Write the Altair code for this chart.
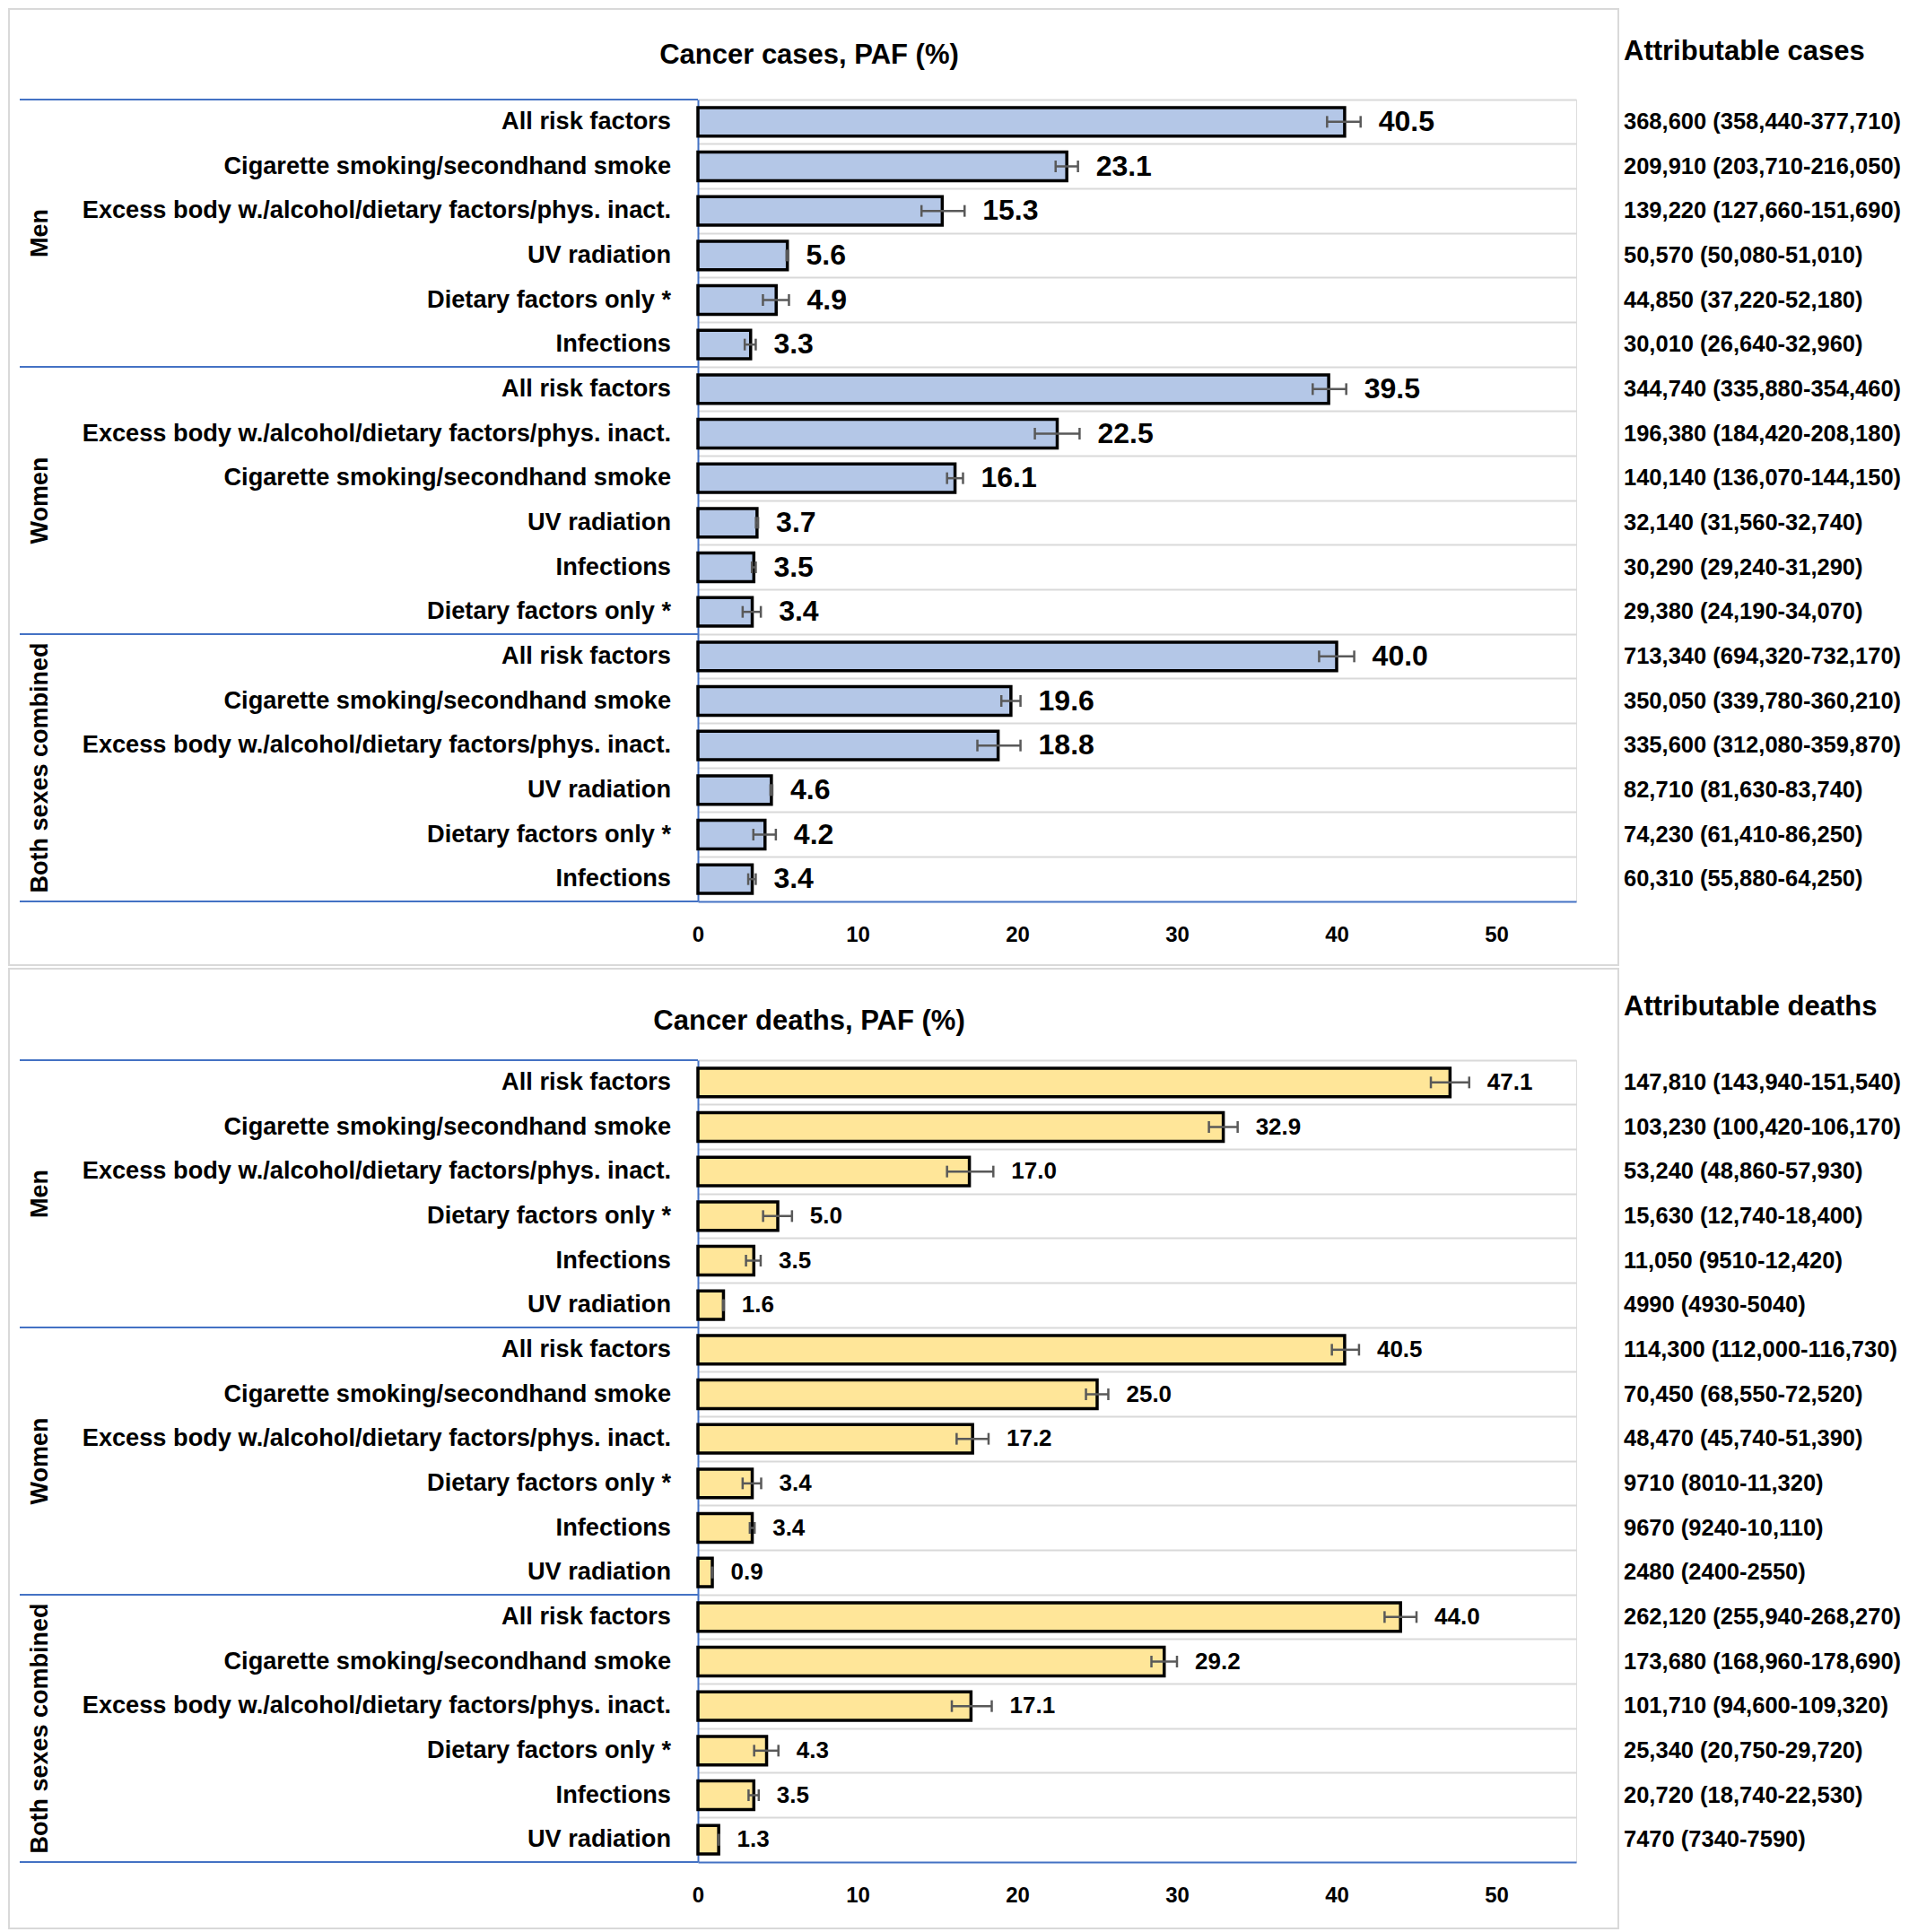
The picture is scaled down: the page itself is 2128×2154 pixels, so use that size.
import altair as alt
import pandas as pd

GROUPS = ["Men", "Women", "Both sexes combined"]

ALL = "All risk factors"
CIG = "Cigarette smoking/secondhand smoke"
EXB = "Excess body w./alcohol/dietary factors/phys. inact."
UV = "UV radiation"
DIET = "Dietary factors only *"
INF = "Infections"

# ---- Cancer cases ----
case_factors = [ALL, CIG, EXB, UV, DIET, INF,
                ALL, EXB, CIG, UV, INF, DIET,
                ALL, CIG, EXB, UV, DIET, INF]
case_paf = [40.5, 23.1, 15.3, 5.6, 4.9, 3.3,
            39.5, 22.5, 16.1, 3.7, 3.5, 3.4,
            40.0, 19.6, 18.8, 4.6, 4.2, 3.4]
case_lo = [39.4, 22.4, 14.0, 5.55, 4.07, 2.93,
           38.5, 21.1, 15.6, 3.63, 3.38, 2.80,
           38.9, 19.0, 17.5, 4.54, 3.47, 3.15]
case_hi = [41.5, 23.8, 16.7, 5.65, 5.70, 3.62,
           40.6, 23.9, 16.6, 3.77, 3.62, 3.94,
           41.1, 20.2, 20.2, 4.66, 4.88, 3.62]
case_attr = ["368,600 (358,440-377,710)", "209,910 (203,710-216,050)",
             "139,220 (127,660-151,690)", "50,570 (50,080-51,010)",
             "44,850 (37,220-52,180)", "30,010 (26,640-32,960)",
             "344,740 (335,880-354,460)", "196,380 (184,420-208,180)",
             "140,140 (136,070-144,150)", "32,140 (31,560-32,740)",
             "30,290 (29,240-31,290)", "29,380 (24,190-34,070)",
             "713,340 (694,320-732,170)", "350,050 (339,780-360,210)",
             "335,600 (312,080-359,870)", "82,710 (81,630-83,740)",
             "74,230 (61,410-86,250)", "60,310 (55,880-64,250)"]

# ---- Cancer deaths ----
death_factors = [ALL, CIG, EXB, DIET, INF, UV] * 3
death_paf = [47.1, 32.9, 17.0, 5.0, 3.5, 1.6,
             40.5, 25.0, 17.2, 3.4, 3.4, 0.9,
             44.0, 29.2, 17.1, 4.3, 3.5, 1.3]
death_lo = [45.9, 32.0, 15.6, 4.08, 3.01, 1.58,
            39.7, 24.3, 16.2, 2.80, 3.25, 0.87,
            43.0, 28.4, 15.9, 3.52, 3.17, 1.28]
death_hi = [48.3, 33.8, 18.5, 5.89, 3.93, 1.62,
            41.4, 25.7, 18.2, 3.96, 3.55, 0.93,
            45.0, 30.0, 18.4, 5.04, 3.81, 1.32]
death_attr = ["147,810 (143,940-151,540)", "103,230 (100,420-106,170)",
              "53,240 (48,860-57,930)", "15,630 (12,740-18,400)",
              "11,050 (9510-12,420)", "4990 (4930-5040)",
              "114,300 (112,000-116,730)", "70,450 (68,550-72,520)",
              "48,470 (45,740-51,390)", "9710 (8010-11,320)",
              "9670 (9240-10,110)", "2480 (2400-2550)",
              "262,120 (255,940-268,270)", "173,680 (168,960-178,690)",
              "101,710 (94,600-109,320)", "25,340 (20,750-29,720)",
              "20,720 (18,740-22,530)", "7470 (7340-7590)"]

X_TICKS = [0, 10, 20, 30, 40, 50]

FONT = "'Liberation Sans', Arial, sans-serif"
BLUE = "#4472C4"
GRID = "#D9D9D9"
ERR = "#595959"

W = 979
H = 894


def panel(factors, paf, lo, hi, attr, title, attr_title, fill,
          lab_size, title_y, attr_title_y, box_top, box_bottom):
    n = len(factors)
    keys = [f"r{i:02d}" for i in range(n)]
    df = pd.DataFrame({
        "idx": list(range(n)),
        "key": keys,
        "group": [g for g in GROUPS for _ in range(6)],
        "factor": factors,
        "paf": paf,
        "lo": lo,
        "hi": hi,
        "attr": attr,
        "lab": [f"{v:.1f}" for v in paf],
    })
    yscale = alt.Scale(domain=keys, paddingInner=0, paddingOuter=0)
    yaxis = alt.Axis(labels=False, ticks=False, domain=True, domainColor=BLUE,
                     domainWidth=2, grid=True, gridColor=GRID, gridWidth=2,
                     bandPosition=0, title=None)
    xscale = alt.Scale(domain=[0, 55], nice=False, zero=True)
    xaxis = alt.Axis(values=X_TICKS, grid=False, ticks=False, domainColor=BLUE,
                     domainWidth=2, labelFont=FONT, labelFontSize=24,
                     labelFontWeight="bold", labelColor="black",
                     labelFlush=False, labelPadding=25, title=None)

    def Y(band=None):
        if band is None:
            return alt.Y("key:N", scale=yscale, axis=yaxis, title=None)
        return alt.Y("key:N", scale=yscale, axis=yaxis, title=None, bandPosition=band)

    def X(field):
        return alt.X(field, scale=xscale, axis=xaxis, title=None)

    base = alt.Chart(df)
    one = alt.Chart(pd.DataFrame({"a": [0]}))

    box = one.mark_rect(fillOpacity=0, stroke=GRID, strokeWidth=2).encode(
        x=alt.value(-768), x2=alt.value(1026),
        y=alt.value(box_top), y2=alt.value(box_bottom))

    bars = base.mark_bar(height=alt.RelativeBandSize(0.64), fill=fill,
                         stroke="black", strokeWidth=3.5).encode(x=X("paf:Q"), y=Y())

    sep = base.transform_filter("datum.idx % 6 == 0").mark_rule(
        color=BLUE, strokeWidth=2).encode(
        y=Y(0), x=alt.value(-756), x2=alt.value(0))
    sep_bottom = base.transform_filter("datum.idx == 17").mark_rule(
        color=BLUE, strokeWidth=2).encode(
        y=Y(1), x=alt.value(-756), x2=alt.value(0))

    grp = base.transform_filter("datum.idx % 6 == 2").mark_text(
        angle=270, font=FONT, fontWeight="bold", fontSize=27,
        align="center", baseline="middle", color="black").encode(
        y=Y(1), x=alt.value(-733), text="group:N")

    cats = base.mark_text(align="right", baseline="middle", font=FONT,
                          fontWeight="bold", fontSize=27.2, color="black").encode(
        y=Y(), x=alt.value(-30), text="factor:N")

    err = base.mark_rule(color=ERR, strokeWidth=2.5).encode(
        x=X("lo:Q"), x2="hi:Q", y=Y())
    cap_lo = base.mark_tick(color=ERR, thickness=2.5, size=13, opacity=1).encode(
        x=X("lo:Q"), y=Y())
    cap_hi = base.mark_tick(color=ERR, thickness=2.5, size=13, opacity=1).encode(
        x=X("hi:Q"), y=Y())

    vals = base.mark_text(align="left", baseline="middle", dx=20, font=FONT,
                          fontWeight="bold", fontSize=lab_size, color="black").encode(
        x=X("hi:Q"), y=Y(), text="lab:N")

    attrs = base.mark_text(align="left", baseline="middle", font=FONT,
                           fontWeight="bold", fontSize=25.5, color="black").encode(
        x=alt.value(1032), y=Y(), text="attr:N")

    ttl = one.mark_text(text=title, align="center", baseline="middle", font=FONT,
                        fontWeight="bold", fontSize=31, color="black").encode(
        x=alt.value(124), y=alt.value(title_y))
    attl = one.mark_text(text=attr_title, align="left", baseline="middle", font=FONT,
                         fontWeight="bold", fontSize=31, color="black").encode(
        x=alt.value(1032), y=alt.value(attr_title_y))

    return alt.layer(box, bars, sep, sep_bottom, grp, cats, err, cap_lo, cap_hi,
                     vals, attrs, ttl, attl).properties(width=W, height=H)


p1 = panel(case_factors, case_paf, case_lo, case_hi, case_attr,
           "Cancer cases, PAF (%)", "Attributable cases", "#B4C7E7",
           32, -49, -53, -101, 965)
p2 = panel(death_factors, death_paf, death_lo, death_hi, death_attr,
           "Cancer deaths, PAF (%)", "Attributable deaths", "#FFE699",
           26, -43, -59, -102, 968)

chart = alt.vconcat(p1, p2, spacing=0).properties(padding=0).configure_view(
    stroke=None).configure(background="white")

chart.save("out.html", embed_options={"renderer": "svg", "actions": False})
